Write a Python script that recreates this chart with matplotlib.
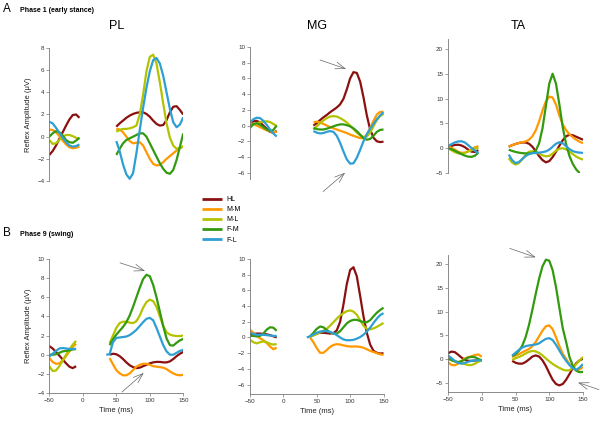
import numpy as np
import matplotlib.pyplot as plt

plt.rcParams['font.family'] = ['Liberation Sans', 'DejaVu Sans']

W, H = 600, 424
nan = np.nan

names = ['HL', 'M-M', 'M-L', 'F-M', 'F-L']
colors = ['#8b1010', '#ff9900', '#b4c300', '#339a10', '#2e9fd3']

# ---------- Phase 1 (early stance) ----------
a_pl_pre_t = np.arange(-50, 0, 5)
a_pl_pre = {
    'HL':  [-1.65, -1.3, -0.8, -0.2, 0.4, 1.0, 1.55, 1.95, 2.0, 1.7],
    'M-M': [0.65, 0.6, 0.4, 0.05, -0.35, -0.7, -0.95, -1.05, -1.0, -0.9],
    'M-L': [-0.3, -0.65, -0.6, -0.3, 0.0, 0.15, 0.15, 0.05, -0.1, -0.2],
    'F-M': [0.0, 0.3, 0.5, 0.4, 0.1, -0.3, -0.5, -0.55, -0.35, -0.1],
    'F-L': [1.35, 1.2, 0.8, 0.35, -0.1, -0.5, -0.8, -0.9, -0.85, -0.7],
}
a_pl_post_t = np.arange(50, 155, 5)
a_pl_post = {
    'HL':  [0.9, 1.2, 1.45, 1.7, 1.9, 2.05, 2.15, 2.2, 2.2, 2.05, 1.8, 1.45, 1.15, 1.0, 1.05, 1.5, 2.2, 2.7, 2.75, 2.4, 2.0],
    'M-M': [0.7, 0.65, 0.4, 0.0, -0.4, -0.6, -0.55, -0.5, -0.8, -1.4, -2.0, -2.45, -2.6, -2.55, -2.3, -2.0, -1.75, -1.5, -1.25, -1.05, -0.9],
    'M-L': [0.45, 0.6, 0.7, 0.7, 0.75, 0.85, 1.0, 2.0, 3.8, 5.9, 7.2, 7.4, 6.6, 4.9, 3.0, 1.2, -0.1, -0.8, -1.1, -1.0, -0.85],
    'F-M': [-1.65, -1.1, -0.6, -0.3, -0.15, 0.0, 0.15, 0.3, 0.3, 0.0, -0.6, -1.2, -1.8, -2.4, -2.9, -3.25, -3.35, -3.0, -2.1, -0.9, 0.3],
    'F-L': [-0.4, -1.3, -2.5, -3.4, -3.8, -3.3, -1.5, 0.6, 2.6, 4.4, 5.9, 6.9, 7.1, 6.6, 5.5, 4.0, 2.5, 1.3, 0.85, 1.1, 1.75],
}

a_mg_pre_t = np.arange(-50, -5, 5)
a_mg_pre = {
    'HL':  [0.2, 0.55, 0.6, 0.4, 0.0, -0.4, -0.8, -0.9, -0.7],
    'M-M': [0.3, 0.2, 0.0, -0.2, -0.4, -0.6, -0.75, -0.85, -0.8],
    'M-L': [-0.1, 0.1, 0.3, 0.4, 0.5, 0.55, 0.45, 0.2, -0.05],
    'F-M': [-0.3, 0.2, 0.3, 0.1, -0.2, -0.5, -0.7, -0.55, 0.0],
    'F-L': [0.4, 0.8, 1.0, 0.95, 0.6, 0.1, -0.5, -1.0, -1.4],
}
a_mg_post_t = np.arange(45, 155, 5)
a_mg_post = {
    'HL':  [0.0, 0.3, 0.7, 1.05, 1.35, 1.7, 2.0, 2.3, 2.7, 3.4, 4.6, 6.0, 6.8, 6.7, 5.6, 3.6, 1.3, -0.5, -1.55, -2.0, -2.1, -2.05],
    'M-M': [0.4, 0.5, 0.4, 0.2, 0.0, -0.2, -0.35, -0.5, -0.65, -0.8, -0.95, -1.15, -1.3, -1.45, -1.6, -1.6, -1.2, -0.3, 0.6, 1.4, 1.75, 1.75],
    'M-L': [-0.5, -0.1, 0.3, 0.65, 0.95, 1.15, 1.2, 1.15, 0.95, 0.7, 0.4, 0.0, -0.45, -0.9, -1.25, -1.45, -1.4, -0.9, -0.1, 0.7, 1.2, 1.5],
    'F-M': [-0.3, -0.45, -0.5, -0.5, -0.4, -0.25, -0.1, 0.05, 0.15, 0.15, 0.05, -0.1, -0.35, -0.7, -1.15, -1.6, -1.8, -1.7, -1.3, -0.8, -0.55, -0.5],
    'F-L': [-0.7, -0.9, -1.0, -0.95, -0.8, -0.7, -0.8, -1.3, -2.2, -3.3, -4.3, -4.85, -4.8, -4.1, -3.1, -2.0, -1.1, -0.4, 0.2, 0.8, 1.3, 1.7],
}

a_ta_pre_t = np.arange(-50, 0, 5)
a_ta_pre = {
    'HL':  [0.2, 0.45, 0.65, 0.7, 0.55, 0.2, -0.3, -0.7, -0.75, -0.4],
    'M-M': [0.4, 0.1, -0.3, -0.7, -0.95, -0.9, -0.6, -0.2, 0.2, 0.4],
    'M-L': [0.0, -0.4, -0.8, -1.05, -1.1, -0.95, -0.7, -0.4, -0.1, 0.1],
    'F-M': [0.0, -0.2, -0.5, -0.85, -1.2, -1.5, -1.7, -1.75, -1.5, -0.9],
    'F-L': [0.4, 0.8, 1.15, 1.35, 1.4, 1.15, 0.6, 0.0, -0.5, -1.1],
}
a_ta_post_t = np.arange(40, 155, 5)
a_ta_post = {
    'HL':  [0.3, 0.6, 0.85, 1.05, 1.15, 1.15, 0.9, 0.3, -0.6, -1.6, -2.4, -2.85, -2.6, -1.8, -0.7, 0.5, 1.6, 2.4, 2.7, 2.6, 2.3, 2.0, 1.7],
    'M-M': [0.3, 0.6, 0.85, 1.05, 1.2, 1.35, 1.7, 2.4, 3.6, 5.4, 7.6, 9.4, 10.4, 10.2, 8.8, 6.6, 4.8, 3.6, 2.8, 2.2, 1.7, 1.3, 1.0],
    'M-L': [-2.0, -2.9, -3.3, -3.0, -2.2, -1.3, -0.7, -0.6, -0.8, -1.1, -1.45, -1.65, -1.55, -1.1, -0.5, -0.1, 0.0, -0.25, -0.7, -1.2, -1.7, -2.05, -2.3],
    'F-M': [-0.3, -0.55, -0.75, -0.9, -1.0, -1.05, -1.05, -1.0, -0.5, 1.0, 4.0, 8.5, 13.0, 15.0, 13.0, 8.8, 4.2, 0.8, -1.6, -3.2, -4.3, -5.0, nan],
    'F-L': [-1.3, -2.4, -3.0, -2.8, -2.2, -1.6, -1.2, -1.0, -0.95, -0.9, -0.8, -0.65, -0.3, 0.3, 0.9, 1.2, 1.0, 0.4, -0.2, -0.6, -0.8, -0.9, -0.95],
}

# ---------- Phase 9 (swing) ----------
b_pl_pre_t = np.arange(-50, -5, 5)
b_pl_pre = {
    'HL':  [0.9, 0.65, 0.3, -0.1, -0.5, -0.9, -1.25, -1.4, -1.2],
    'M-M': [-0.35, -0.75, -0.95, -0.9, -0.6, -0.15, 0.35, 0.8, 1.15],
    'M-L': [-1.2, -1.7, -1.65, -1.2, -0.6, 0.0, 0.55, 1.05, 1.45],
    'F-M': [0.0, 0.0, 0.05, 0.2, 0.35, 0.4, 0.45, 0.55, 0.6],
    'F-L': [-0.2, 0.1, 0.4, 0.65, 0.7, 0.65, 0.6, 0.6, 0.6],
}
b_pl_post_t = np.arange(35, 155, 5)
b_pl_post = {
    'HL':  [nan, 0.0, 0.1, 0.05, -0.15, -0.45, -0.8, -1.1, -1.3, -1.4, -1.35, -1.2, -1.05, -0.9, -0.8, -0.75, -0.75, -0.8, -0.8, -0.7, -0.45, -0.15, 0.1, 0.3],
    'M-M': [nan, -0.35, -1.0, -1.6, -1.95, -2.15, -2.15, -1.95, -1.6, -1.25, -1.05, -0.95, -0.95, -1.05, -1.2, -1.25, -1.3, -1.35, -1.5, -1.75, -1.95, -2.1, -2.15, -2.1],
    'M-L': [nan, 1.2, 2.0, 2.8, 3.3, 3.45, 3.45, 3.35, 3.3, 3.5, 4.1, 4.9, 5.5, 5.75, 5.6, 5.0, 4.0, 3.0, 2.35, 2.1, 2.0, 1.95, 1.95, 2.0],
    'F-M': [nan, 1.0, 1.6, 2.1, 2.5, 2.9, 3.4, 4.1, 5.0, 6.0, 7.0, 7.9, 8.35, 8.2, 7.3, 6.0, 4.5, 3.0, 1.7, 1.0, 0.95, 1.25, 1.5, 1.65],
    'F-L': [0.0, 0.05, 1.3, 1.75, 1.8, 1.85, 1.9, 2.05, 2.3, 2.6, 3.0, 3.4, 3.75, 3.85, 3.6, 2.8, 1.9, 1.0, 0.35, 0.0, 0.0, 0.2, 0.4, 0.5],
}

b_mg_pre_t = np.arange(-50, -5, 5)
b_mg_pre = {
    'HL':  [0.4, 0.45, 0.5, 0.5, 0.45, 0.4, 0.3, 0.15, 0.0],
    'M-M': [1.0, 0.6, 0.2, -0.1, -0.35, -0.7, -1.15, -1.5, -1.3],
    'M-L': [-0.3, -0.6, -0.75, -0.6, -0.5, -0.6, -0.8, -0.9, -0.85],
    'F-M': [0.2, 0.2, 0.15, 0.2, 0.5, 1.0, 1.3, 1.25, 0.85],
    'F-L': [0.6, 0.45, 0.35, 0.35, 0.35, 0.3, 0.25, 0.2, 0.2],
}
b_mg_post_t = np.arange(35, 155, 5)
b_mg_post = {
    'HL':  [nan, 0.1, 0.3, 0.5, 0.6, 0.6, 0.55, 0.5, 0.55, 0.9, 2.0, 4.2, 6.8, 8.6, 8.95, 7.8, 5.3, 2.7, 0.6, -0.9, -1.7, -1.95, -2.05, -2.0],
    'M-M': [nan, 0.0, -0.6, -1.35, -1.95, -1.95, -1.6, -1.2, -0.95, -0.85, -0.9, -1.0, -1.1, -1.15, -1.15, -1.15, -1.2, -1.3, -1.5, -1.7, -1.85, -2.0, -2.15, -2.2],
    'M-L': [nan, 0.1, 0.25, 0.45, 0.65, 0.85, 1.1, 1.5, 1.95, 2.4, 2.8, 3.1, 3.35, 3.45, 3.3, 2.9, 2.2, 1.5, 1.1, 1.05, 1.15, 1.35, 1.6, 1.85],
    'F-M': [nan, 0.15, 0.6, 1.1, 1.4, 1.3, 0.95, 0.65, 0.5, 0.5, 0.8, 1.3, 1.8, 2.1, 2.25, 2.25, 2.1, 1.95, 1.95, 2.2, 2.7, 3.15, 3.5, 3.8],
    'F-L': [0.0, 0.15, 0.4, 0.6, 0.75, 0.8, 0.8, 0.7, 0.55, 0.3, 0.0, -0.25, -0.35, -0.35, -0.3, -0.15, 0.05, 0.35, 0.75, 1.25, 1.85, 2.4, 2.85, 3.1],
}

b_ta_pre_t = np.arange(-50, 5, 5)
b_ta_pre = {
    'HL':  [1.2, 1.55, 1.45, 0.9, 0.3, -0.2, -0.4, -0.4, -0.35, -0.3, -0.3],
    'M-M': [-0.7, -1.25, -1.35, -1.0, -0.4, 0.1, 0.4, 0.55, 0.85, 0.95, 0.45],
    'M-L': [0.0, -0.3, -0.55, -0.75, -0.9, -1.1, -1.3, -1.3, -1.0, -0.6, -0.3],
    'F-M': [0.1, -0.2, -0.5, -0.65, -0.5, -0.1, 0.3, 0.45, 0.35, 0.0, -0.3],
    'F-L': [0.75, 0.2, -0.4, -0.85, -1.0, -0.85, -0.6, -0.4, -0.3, -0.3, -0.3],
}
b_ta_post_t = np.arange(45, 155, 5)
b_ta_post = {
    'HL':  [-0.4, -0.8, -1.0, -1.0, -0.65, -0.1, 0.5, 0.75, 0.5, -0.3, -1.5, -3.0, -4.4, -5.3, -5.6, -5.3, -4.4, -3.2, -1.9, -0.9, -0.3, 0.05],
    'M-M': [0.4, 0.7, 1.0, 1.4, 1.75, 2.1, 2.7, 3.6, 4.8, 6.0, 6.9, 7.1, 6.3, 4.6, 2.7, 1.1, 0.0, -1.1, -2.0, -2.4, -2.2, -1.7],
    'M-L': [-0.2, 0.15, 0.4, 0.75, 1.15, 1.5, 1.7, 1.6, 1.25, 0.75, 0.1, -0.5, -1.05, -1.5, -1.9, -2.25, -2.45, -2.4, -1.9, -1.1, -0.3, 0.4],
    'F-M': [0.6, 1.0, 1.7, 2.8, 4.6, 7.2, 10.4, 13.8, 17.0, 19.6, 21.0, 20.8, 18.8, 15.2, 10.8, 6.5, 3.6, 0.4, -1.5, -2.5, -2.8, -2.75],
    'F-L': [0.7, 1.3, 1.9, 2.4, 2.7, 2.85, 2.95, 3.05, 3.3, 3.8, 4.25, 4.4, 4.0, 3.0, 1.8, 0.6, -0.4, -1.3, -2.0, -2.3, -1.8, -1.1],
}

# arrows: (tail, head) in data units of the panel
a_mg_arrows = [((55, 8.35), (94, 7.2)), ((59.5, -8.4), (92.5, -6.0))]
b_pl_arrows = [((55.5, 9.6), (93, 8.75)), ((58.5, -3.9), (91, -1.9))]
b_ta_arrows = [((41.5, 23.4), (80, 21.5)), ((173.7, -6.5), (142.6, -5.0))]


def rect(l, t, r, b):
    return [l / W, 1 - b / H, (r - l) / W, (b - t) / H]


fig = plt.figure(figsize=(6, 4.24), dpi=100)

panels = [
    (rect(49.3, 48, 183.3, 181), (-4, 8), np.arange(-4, 9, 2), a_pl_pre_t, a_pl_pre, a_pl_post_t, a_pl_post, [], False),
    (rect(250, 47, 383.5, 179), (-6.8, 10), np.arange(-6, 11, 2), a_mg_pre_t, a_mg_pre, a_mg_post_t, a_mg_post, a_mg_arrows, False),
    (rect(448, 39, 583, 173), (-5, 22), np.arange(-5, 21, 5), a_ta_pre_t, a_ta_pre, a_ta_post_t, a_ta_post, [], False),
    (rect(49.3, 259, 183.3, 393), (-4, 10), np.arange(-4, 11, 2), b_pl_pre_t, b_pl_pre, b_pl_post_t, b_pl_post, b_pl_arrows, True),
    (rect(250, 259, 383.5, 394), (-7.2, 10), np.arange(-6, 11, 2), b_mg_pre_t, b_mg_pre, b_mg_post_t, b_mg_post, [], True),
    (rect(448, 255, 583, 392), (-7, 22), np.arange(-5, 21, 5), b_ta_pre_t, b_ta_pre, b_ta_post_t, b_ta_post, b_ta_arrows, True),
]

spine_col = '#777777'
for pos, ylim, yticks, pre_t, pre, post_t, post, arrows, bottom in panels:
    ax = fig.add_axes(pos)
    ax.patch.set_alpha(0)
    for name, c in zip(names, colors):
        ax.plot(pre_t, pre[name], color=c, lw=1.6, solid_capstyle='butt', label=name)
        ax.plot(post_t, post[name], color=c, lw=1.6, solid_capstyle='butt')
    ax.set_xlim(-50, 150)
    ax.set_ylim(*ylim)
    ax.set_yticks(yticks)
    for s in ['top', 'right']:
        ax.spines[s].set_visible(False)
    ax.spines['left'].set_color(spine_col)
    ax.spines['left'].set_linewidth(0.6)
    if bottom:
        ax.spines['bottom'].set_color(spine_col)
        ax.spines['bottom'].set_linewidth(0.6)
        ax.set_xticks([-50, 0, 50, 100, 150])
        ax.set_xlabel('Time (ms)', fontsize=5.5, labelpad=3, color='#222222')
    else:
        ax.spines['bottom'].set_visible(False)
        ax.set_xticks([])
    ax.tick_params(labelsize=4.5, length=2, width=0.5, color=spine_col,
                   labelcolor='#333333', pad=1.5)
    for tail, head in arrows:
        ax.annotate('', xy=head, xytext=tail, annotation_clip=False,
                    arrowprops=dict(arrowstyle='->,head_length=0.7,head_width=0.25',
                                    color='#666666', lw=0.5, shrinkA=0, shrinkB=0))
    if pos[0] < 0.1:
        ax.set_ylabel('Reflex Amplitude (\u03bcV)', fontsize=5.5, labelpad=4, color='#222222')
    if pos == panels[0][0]:
        handles, labels = ax.get_legend_handles_labels()

for x, t in [(117, 'PL'), (317, 'MG'), (518, 'TA')]:
    fig.text(x / W, 1 - 26 / H, t, ha='center', va='center', fontsize=9)

fig.text(3 / W, 1 - 9 / H, 'A', ha='left', va='center', fontsize=8.5)
fig.text(20 / W, 1 - 10 / H, 'Phase 1 (early stance)', ha='left', va='center',
         fontsize=5, fontweight='bold')
fig.text(3 / W, 1 - 233 / H, 'B', ha='left', va='center', fontsize=8.5)
fig.text(20 / W, 1 - 235 / H, 'Phase 9 (swing)', ha='left', va='center',
         fontsize=5, fontweight='bold')

leg = fig.legend(handles, labels, loc='upper left', bbox_to_anchor=(202 / W, 1 - 196 / H),
                 frameon=False, fontsize=5, handlelength=2.9, handletextpad=0.6,
                 labelspacing=0.45, borderpad=0, borderaxespad=0)
for line in leg.get_lines():
    line.set_linewidth(2)

fig.savefig('out.png', dpi=100)
